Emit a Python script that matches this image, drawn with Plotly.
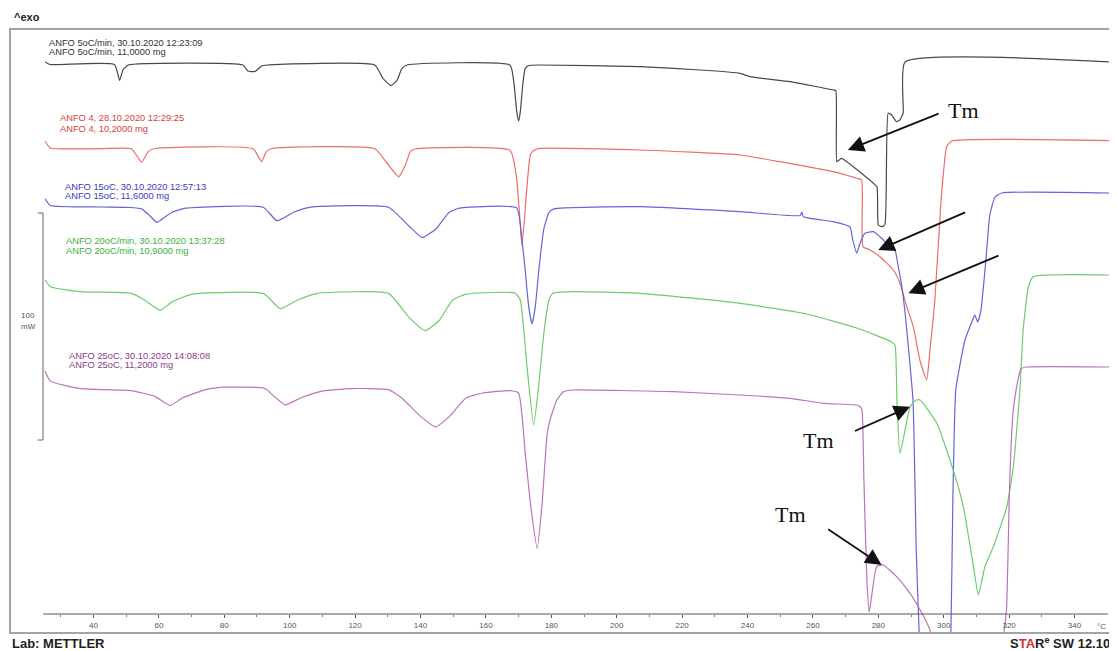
import plotly.graph_objects as go

# ---------------- data ----------------
# (temperature in °C, heat flow in display units; 229 units = 100 mW scale bar)
anfo_5 = [(25.2, 571), (26.7, 568.5), (46.4, 568.5), (48.0, 552.6), (49.0, 563), (50.6, 568),
          (85.7, 568), (87.2, 562), (89.4, 561.5), (91.4, 567), (93.1, 568),
          (126.0, 568), (128.6, 554.3), (131.0, 547.5), (132.8, 552.6), (134.3, 564.4), (135.9, 568),
          (167.4, 567.8), (168.6, 549.2), (169.4, 522.1), (170.0, 512), (170.5, 520.5), (171.3, 549.2),
          (172.0, 564.4), (173.1, 567.5), (176.5, 568), (207.1, 566.3), (225.5, 563), (237.7, 559.7),
          (240.8, 556.3), (253.0, 551.3), (266.2, 543), (267.0, 542.3), (267.3, 471.3), (268.0, 473),
          (268.8, 474.7), (278.5, 449.7), (279.6, 446), (280.0, 408), (281.0, 406.3), (282.0, 408),
          (283.0, 519.7), (284.1, 518), (285.6, 511.3), (286.6, 513), (287.6, 520), (288.2, 571),
          (350.9, 571)]

anfo_4 = [(25.2, 491.7), (26.8, 485), (42.0, 484.3), (51.6, 484.3), (54.7, 470.8), (56.8, 481.6),
          (58.8, 484.5), (88.8, 484.3), (91.4, 471.4), (92.9, 481.6), (94.6, 484.5), (126.0, 484.3),
          (130.2, 468), (133.3, 456.2), (135.4, 468), (136.9, 481.6), (138.4, 484), (167.4, 482.6),
          (169.4, 454.5), (170.4, 414), (171.0, 388), (171.8, 414), (172.6, 448), (173.6, 478.2),
          (174.6, 482.6), (176.5, 484.7), (207.1, 483), (237.7, 478), (249.9, 471.3), (268.3, 459.7),
          (273.4, 454.7), (274.9, 453), (275.3, 386.3), (277.5, 383), (280.5, 376.3), (284.6, 363),
          (286.6, 350), (288.7, 326.3), (290.7, 306.3), (292.7, 273), (294.8, 253), (295.8, 283),
          (297.3, 333), (299.2, 433), (300.9, 486.3), (302.4, 492), (350.9, 492.3)]

anfo_15 = [(25.2, 434.3), (26.8, 427.5), (42.0, 426), (51.2, 425.5), (54.7, 424.1), (57.3, 417),
           (59.4, 410.6), (61.9, 416), (64.0, 420.7), (68.1, 424.8), (91.9, 425.8), (96.1, 412.3),
           (101.2, 420.7), (106.4, 425.8), (130.2, 425.8), (136.4, 407.2), (140.5, 395.4),
           (144.6, 403.8), (148.8, 420.7), (151.9, 424.8), (169.4, 425.1), (171.0, 393.7),
           (172.0, 363.3), (173.1, 326.1), (174.1, 309.2), (175.1, 326.1), (176.2, 363.3),
           (177.7, 403.8), (179.3, 420.7), (180.8, 424.1), (207.1, 426.3), (237.7, 421.3),
           (256.1, 417.5), (256.6, 421), (257.1, 416.3), (266.2, 411.3), (271.3, 406.3),
           (272.2, 393), (273.4, 379.7), (274.4, 389.7), (275.9, 399.7), (278.5, 401.3),
           (280.5, 396.3), (283.6, 386.3), (285.1, 383), (286.1, 366.3), (287.2, 346.3),
           (288.2, 319.7), (288.7, 303), (290.6, 233), (291.6, 83), (292.5, 0), (293.1, -27),
           (301.7, -27), (302.2, 0), (302.8, 133), (303.7, 243), (306.5, 293), (308.6, 311),
           (309.5, 318), (310.4, 311), (311.4, 323), (312.9, 373), (314.1, 418), (315.7, 436),
           (317.8, 440), (350.9, 440)]

anfo_20 = [(25.2, 353), (26.8, 346.3), (36.1, 341.3), (51.6, 339.6), (55.7, 332.8), (60.4, 322.7),
           (64.0, 331.1), (70.2, 338.9), (91.9, 339.6), (97.1, 324.4), (102.3, 332.8), (108.5, 339.6),
           (130.2, 339.6), (136.4, 315.9), (141.5, 302.4), (145.7, 312.5), (149.8, 332.8),
           (153.9, 338.9), (168.9, 340), (170.5, 333), (172.6, 265.4), (174.6, 207.9), (176.2, 248.5),
           (177.7, 299.2), (179.3, 333), (180.5, 339.7), (186.7, 341.3), (207.1, 339.7),
           (237.7, 329.7), (258.1, 319), (273.4, 305), (284.1, 291), (285.1, 288), (285.7, 233),
           (286.6, 179.7), (288.2, 203), (289.7, 226.3), (291.7, 233), (292.8, 233), (297.9, 209.7),
           (302.9, 163), (306.0, 126.3), (309.1, 66.3), (310.6, 38), (312.6, 66.3), (315.2, 86.3),
           (319.3, 126.3), (321.3, 166.3), (323.3, 243), (324.3, 303), (325.9, 346.3),
           (327.4, 356.3), (350.9, 358)]

anfo_25 = [(25.2, 262), (26.8, 251.9), (36.1, 244.4), (51.6, 242.4), (58.8, 236.6), (63.5, 227.5),
           (67.1, 235), (74.3, 243.4), (79.5, 245.8), (91.9, 245.1), (92.9, 243.4), (98.6, 228.2),
           (103.3, 235), (109.5, 241.7), (118.8, 244.4), (130.2, 243.4), (134.3, 235), (139.5, 218.1),
           (144.6, 206.2), (148.8, 216.4), (153.9, 235), (159.1, 240), (167.4, 242.4), (170.0, 240),
           (172.0, 180.9), (173.6, 130.2), (175.7, 84.5), (177.2, 130.2), (178.7, 197.8),
           (179.6, 213), (181.7, 233), (183.7, 241.3), (186.7, 243), (217.3, 241.3), (237.7, 238),
           (252.9, 234.7), (263.2, 229.7), (273.4, 228), (274.4, 226.3), (275.0, 223), (275.6, 153),
           (276.5, 53), (277.2, 21), (277.8, 33), (279.5, 66.3), (281.5, 68), (285.6, 56.3),
           (289.7, 39.7), (292.8, 23), (295.8, 3), (297.4, -27), (317.2, -27), (318.4, 0),
           (319.2, 23), (320.2, 153), (321.2, 219.7), (322.3, 246.3), (323.6, 264), (325.2, 266),
           (350.9, 266)]

curve_names = ["ANFO 5oC/min", "ANFO 4", "ANFO 15oC", "ANFO 20oC/min", "ANFO 25oC"]
curve_info = ["ANFO 5oC/min, 30.10.2020 12:23:09", "ANFO 4, 28.10.2020 12:29:25",
              "ANFO 15oC, 30.10.2020 12:57:13", "ANFO 20oC/min, 30.10.2020 13:37:28",
              "ANFO 25oC, 30.10.2020 14:08:08"]
curve_mass = ["ANFO 5oC/min, 11,0000 mg", "ANFO 4, 10,2000 mg", "ANFO 15oC, 11,6000 mg",
              "ANFO 20oC/min, 10,9000 mg", "ANFO 25oC, 11,2000 mg"]
x_ticks = [40, 60, 80, 100, 120, 140, 160, 180, 200, 220, 240, 260, 280, 300, 320, 340]
x_minor = [30, 50, 70, 90, 110, 130, 150, 170, 190, 210, 230, 250, 270, 290, 310, 330]

# ---------------- styling ----------------
curves = [anfo_5, anfo_4, anfo_15, anfo_20, anfo_25]
line_colors = ["#484848", "#ea6c6c", "#6464d8", "#6ccc6c", "#bc72bc"]
text_colors = ["#333333", "#d83c3c", "#3a3ab8", "#3cb03c", "#8a3a8a"]
label_pos = [(25.7, 590, 581), (29.2, 515, 504), (30.8, 446, 437), (30.9, 392, 382), (31.8, 277, 268)]

fig = go.Figure()
for name, pts, col in zip(curve_names, curves, line_colors):
    fig.add_trace(go.Scatter(x=[p[0] for p in pts], y=[p[1] for p in pts], mode="lines",
                             name=name, line=dict(color=col, width=1.2, shape="spline",
                                                  smoothing=0.45),
                             hoverinfo="skip"))

ann = []
LF = "Liberation Sans"
for (xl, y1, y2), t1, t2, c in zip(label_pos, curve_info, curve_mass, text_colors):
    for yy, tt in ((y1, t1), (y2, t2)):
        ann.append(dict(x=xl, y=yy, xref="x", yref="y", text=tt, showarrow=False,
                        xanchor="left", yanchor="middle", font=dict(family=LF, size=9.3, color=c)))

# Tm arrows (tip, tail)
arrows = [((270.7, 483), (298.9, 520)), ((280.0, 383), (307.0, 421.3)),
          ((289.2, 339.7), (317.2, 378)), ((289.7, 226.3), (272.4, 201.3)),
          ((281.0, 68), (264.2, 104.7))]
for (tx, ty), (sx, sy) in arrows:
    ann.append(dict(x=tx, y=ty, ax=sx, ay=sy, xref="x", yref="y", axref="x", ayref="y",
                    text="", showarrow=True, arrowhead=2, arrowsize=1.8, arrowwidth=1.8,
                    arrowcolor="#111111"))
for tx, ty in [(305.9, 523), (261.6, 193), (253.3, 118.5)]:
    ann.append(dict(x=tx, y=ty, xref="x", yref="y", text="Tm", showarrow=False,
                    font=dict(family="Liberation Serif", size=22, color="#111111")))

# scale bar text and unit
ann.append(dict(x=20.0, y=318, xref="x", yref="y", text="100", showarrow=False,
                font=dict(family=LF, size=8, color="#555555")))
ann.append(dict(x=20.0, y=307, xref="x", yref="y", text="mW", showarrow=False,
                font=dict(family=LF, size=8, color="#555555")))
ann.append(dict(x=348.4, y=7, xref="x", yref="y", text="°C", showarrow=False,
                font=dict(family=LF, size=8, color="#555555")))
# header / footer
ann.append(dict(x=0.002, y=1.0199, xref="paper", yref="paper", text="<b>^exo</b>", showarrow=False,
                xanchor="left", yanchor="middle", font=dict(family=LF, size=11, color="#222222")))
ann.append(dict(x=0.0, y=-0.0166, xref="paper", yref="paper", text="<b>Lab: METTLER</b>",
                showarrow=False, xanchor="left", yanchor="middle",
                font=dict(family=LF, size=13, color="#222222")))
ann.append(dict(x=0.9991, y=-0.0166, xref="paper", yref="paper",
                text="<b>S<span style='color:#d03030'>TA</span>R<sup>e</sup> SW 12.10</b>",
                showarrow=False, xanchor="right", yanchor="middle",
                font=dict(family=LF, size=13, color="#222222")))

shapes = [
    dict(type="rect", xref="paper", yref="paper", x0=0, x1=1, y0=0, y1=1,
         line=dict(color="#a4a4a4", width=2)),
    dict(type="line", xref="x", yref="y", x0=24.6, x1=350.2, y0=19, y1=19,
         line=dict(color="#555555", width=1)),
    dict(type="line", xref="x", yref="y", x0=24.56, x1=24.56, y0=193, y1=420,
         line=dict(color="#666666", width=1)),
    dict(type="line", xref="x", yref="y", x0=23.0, x1=24.56, y0=420, y1=420,
         line=dict(color="#666666", width=1)),
    dict(type="line", xref="x", yref="y", x0=23.0, x1=24.56, y0=193, y1=193,
         line=dict(color="#666666", width=1)),
]

# the page body adds an 8px margin, so the figure is 8px smaller on each side
fig.update_layout(
    width=1109, height=643, margin=dict(l=2, r=4, t=21, b=18),
    paper_bgcolor="white", plot_bgcolor="white", showlegend=False,
    annotations=ann, shapes=shapes,
    xaxis=dict(range=[14.47, 351.77], anchor="free", position=0.03146, showline=False,
               showgrid=False, zeroline=False, tickvals=x_ticks, ticks="outside", ticklen=3,
               tickcolor="#555555", tickfont=dict(family=LF, size=8, color="#555555"),
               minor=dict(tickvals=x_minor, ticks="outside", ticklen=2, tickcolor="#777777")),
    yaxis=dict(range=[0, 604], visible=False, showgrid=False, zeroline=False),
)

fig.write_html("out.html")
